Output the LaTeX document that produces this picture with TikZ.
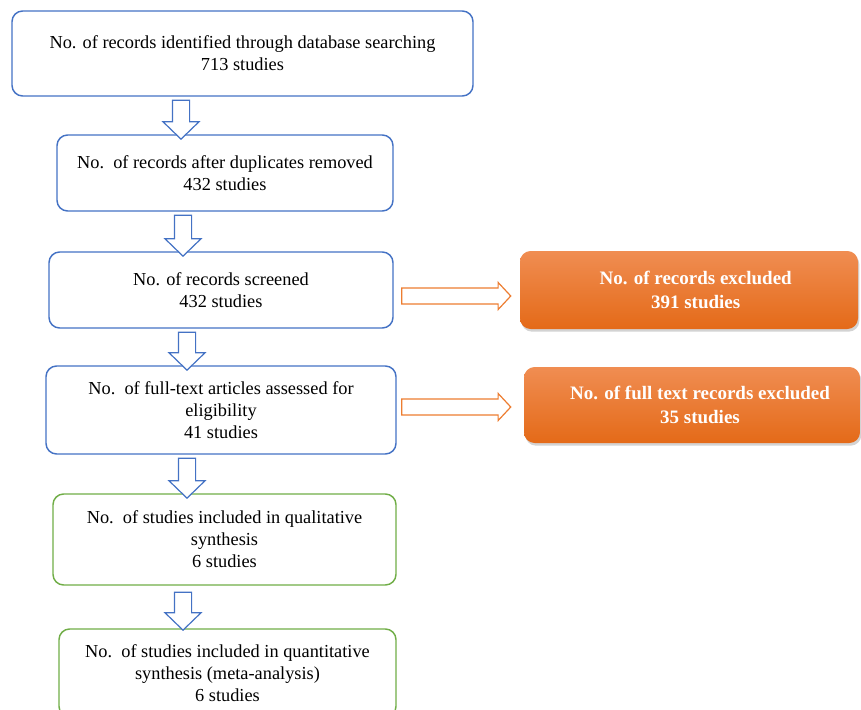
\documentclass[tikz,border=0pt]{standalone}
\usepackage{fontspec}
\setmainfont{Liberation Serif}
\usetikzlibrary{shapes.arrows,shadows}
\definecolor{boxblue}{HTML}{4472C4}
\definecolor{boxgreen}{HTML}{70AD47}
\definecolor{exclorange}{HTML}{ED7D31}
\definecolor{excltop}{HTML}{F08D52}
\definecolor{exclbottom}{HTML}{E46A18}

\begin{document}
\begin{tikzpicture}[x=0.75pt, y=-0.75pt, font=\fontsize{13.75}{16.5}\selectfont]
   \useasboundingbox (0,0) rectangle (861,710);

   \begin{scope}[every node/.style={draw=boxblue,line width=1.1pt,rounded corners=8pt,align=center,inner sep=0pt}]
    \node[minimum width=345.75pt,minimum height=63.75pt] (b1) at (242.5,53.5) {No. of records identified through database searching\\713 studies};
    \node[minimum width=252pt,minimum height=57pt] (b2) at (225,173) {No.\ \ of records after duplicates removed\\432 studies};
    \node[minimum width=258pt,minimum height=57pt] (b3) at (221,290) {No. of records screened\\432 studies};
    \node[minimum width=262.5pt,minimum height=66pt] (b4) at (221,410) {No.\ \ of full-text articles assessed for\\eligibility\\41 studies};
    \node[draw=boxgreen,minimum width=257.25pt,minimum height=68.25pt] (b5) at (224.5,539.5) {No.\ \ of studies included in qualitative\\synthesis\\6 studies};
    \node[draw=boxgreen,minimum width=252.75pt,minimum height=66pt] (b6) at (227.5,673) {No.\ \ of studies included in quantitative\\synthesis (meta-analysis)\\6 studies};
   \end{scope}

   \begin{scope}[every node/.style={rounded corners=8pt,align=center,text=white,font=\fontsize{14.25}{18}\selectfont\bfseries,
      top color=excltop,bottom color=exclbottom,
      drop shadow={shadow xshift=1pt,shadow yshift=-2pt,opacity=.35}}]
    \node[minimum width=253.5pt,minimum height=58.5pt] (e1) at (689,290) {\hspace*{10pt}No. of records excluded\\\hspace*{10pt}391 studies};
    \node[minimum width=252pt,minimum height=57pt] (e2) at (692,405) {\hspace*{12pt}No. of full text records excluded\\\hspace*{12pt}35 studies};
   \end{scope}

   \begin{scope}[every node/.style={single arrow,draw=boxblue,line width=0.9pt,fill=white,inner sep=6pt,
      single arrow head extend=7.1pt,single arrow tip angle=92,shape border rotate=270}]
    \node[minimum height=29.25pt] (d1) at (181,115.5) {};
    \node[minimum height=30.75pt] (d2) at (183,231.5) {};
    \node[minimum height=28.5pt] (d3) at (187,347) {};
    \node[minimum height=30pt] (d4) at (187,474) {};
    \node[minimum height=28.5pt] (d5) at (183,607) {};
   \end{scope}

   \begin{scope}[every node/.style={single arrow,draw=exclorange,line width=0.9pt,fill=white,inner sep=5.6pt,
      single arrow head extend=4.1pt,single arrow tip angle=94,minimum height=81.75pt}]
    \node (r1) at (452.5,296) {};
    \node (r2) at (452.5,407) {};
   \end{scope}
\end{tikzpicture}
\end{document}
